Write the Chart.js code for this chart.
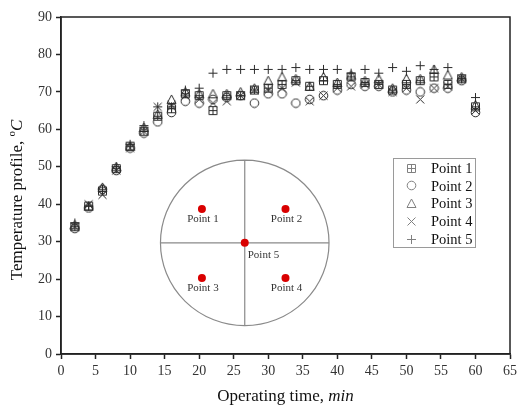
<!DOCTYPE html>
<html>
<head>
<meta charset="utf-8">
<script src="https://cdn.jsdelivr.net/npm/chart.js@4.4.0/dist/chart.umd.min.js"></script>
<style>
  html, body { margin: 0; padding: 0; background: #fff; }
</style>
</head>
<body>
<canvas id="chart" width="521" height="410"></canvas>
<script>
// Data
const times = [2, 4, 6, 8, 10, 12, 14, 16, 18, 20, 22, 24, 26, 28, 30, 32, 34, 36, 38, 40, 42, 44, 46, 48, 50, 52, 54, 56, 58, 60];
const point1 = [34, 39.5, 43.5, 49.5, 55.5, 59.5, 63.5, 65.5, 69.5, 69, 65, 69, 69, 70.5, 71, 72, 73, 71.5, 73, 72, 74, 72.5, 72, 70.5, 72, 73, 74, 72, 73.5, 66];
const point2 = [33.5, 39, 44, 49, 55, 59, 62, 64.5, 67.5, 67, 68, 68.5, 69, 67, 69.5, 69.5, 67, 68, 69, 70.5, 72, 71.5, 71.5, 70, 70.5, 70, 71, 71, 73, 64.5];
const point3 = [34.5, 39.5, 44.5, 50, 55.5, 60.5, 64, 68, 70, 69.5, 69.5, 69.5, 70, 71, 73, 74, 73.5, 71.5, 74, 72.5, 74.5, 73, 73.5, 71, 73.5, 73.5, 76, 74.5, 74, 66.5];
const point4 = [34, 40, 42.5, 49, 55, 59.5, 66, 66.5, 69, 68, 67, 67.5, 69, 70.5, 70.5, 71, 72.5, 67.5, 69, 71, 71.5, 72, 72, 70, 71, 68, 71, 71.5, 73.5, 65];
const point5 = [35, 39.5, 44, 50, 56, 61, 66, 66, 70.5, 71, 75, 76, 76, 76, 76, 76, 76.5, 76, 76, 76, 75, 76, 75, 76.5, 75.5, 77, 76, 76.5, 73.5, 68.5];
const seriesLabels = ['Point 1', 'Point 2', 'Point 3', 'Point 4', 'Point 5'];
const markerKinds = ['boxplus', 'circle', 'triangle', 'x', 'plus'];

// Inset: sensor positions in the cross-section (drawn in axis units)
const sensorX = [20.4, 32.5, 20.4, 32.5, 26.6];
const sensorY = [38.7, 38.7, 20.3, 20.3, 29.7];
const sensorLabels = ['Point 1', 'Point 2', 'Point 3', 'Point 4', 'Point 5'];
const insetCenter = [26.6, 29.7];
const insetRadius = [12.2, 22.1];

const SERIF = '"Liberation Serif", "DejaVu Serif", serif';

function makeMarker(kind, color) {
    const s = 11, c = document.createElement('canvas');
    c.width = s; c.height = s;
    const g = c.getContext('2d');
    g.strokeStyle = color;
    g.lineWidth = 1;
    g.beginPath();
    if (kind === 'boxplus') {
        g.rect(1.5, 1.5, 8, 8);
        g.moveTo(5.5, 1.5); g.lineTo(5.5, 9.5);
        g.moveTo(1.5, 5.5); g.lineTo(9.5, 5.5);
    } else if (kind === 'circle') {
        g.arc(5.5, 5.5, 4.3, 0, Math.PI * 2);
    } else if (kind === 'triangle') {
        g.moveTo(5.5, 1); g.lineTo(10, 9.5); g.lineTo(1, 9.5); g.closePath();
    } else if (kind === 'x') {
        g.moveTo(1.5, 1.5); g.lineTo(9.5, 9.5);
        g.moveTo(9.5, 1.5); g.lineTo(1.5, 9.5);
    } else {
        g.moveTo(5.5, 1); g.lineTo(5.5, 10);
        g.moveTo(1, 5.5); g.lineTo(10, 5.5);
    }
    g.stroke();
    return c;
}

const dataMarkers = markerKinds.map(k => makeMarker(k, '#2a2a2a'));
const legendMarkers = markerKinds.map(k => makeMarker(k, '#808080'));

const seriesValues = [point1, point2, point3, point4, point5];
const datasets = seriesValues.map((vals, i) => ({
    label: seriesLabels[i],
    data: times.map((t, j) => ({ x: t, y: vals[j] })),
    pointStyle: dataMarkers[i],
    showLine: false
}));
datasets.push({
    label: 'sensors',
    data: sensorX.map((x, i) => ({ x: x, y: sensorY[i] })),
    pointStyle: 'circle',
    pointRadius: 4,
    backgroundColor: '#d90000',
    borderColor: '#d90000',
    borderWidth: 0,
    showLine: false
});

// frame, inset diagram, legend and axis titles
const decorations = {
    id: 'decorations',
    beforeDatasetsDraw(chart) {
        const { ctx, chartArea: a, scales: { x, y } } = chart;
        ctx.save();
        // inset circle with cross
        const cx = x.getPixelForValue(insetCenter[0]);
        const cy = y.getPixelForValue(insetCenter[1]);
        const rx = x.getPixelForValue(insetCenter[0] + insetRadius[0]) - cx;
        const ry = cy - y.getPixelForValue(insetCenter[1] + insetRadius[1]);
        ctx.strokeStyle = '#8a8a8a';
        ctx.lineWidth = 1.2;
        ctx.beginPath();
        ctx.ellipse(cx, cy, rx, ry, 0, 0, Math.PI * 2);
        ctx.moveTo(cx - rx, cy); ctx.lineTo(cx + rx, cy);
        ctx.moveTo(cx, cy - ry); ctx.lineTo(cx, cy + ry);
        ctx.stroke();
        // plot frame
        ctx.strokeStyle = '#222';
        ctx.lineWidth = 1.5;
        ctx.strokeRect(a.left, a.top, a.right - a.left, a.bottom - a.top);
        ctx.restore();
    },
    afterDatasetsDraw(chart) {
        const { ctx, scales: { x, y } } = chart;
        ctx.save();
        // sensor labels
        ctx.fillStyle = '#333';
        ctx.font = '11px ' + SERIF;
        ctx.textBaseline = 'middle';
        sensorLabels.forEach((lab, i) => {
            const px = x.getPixelForValue(sensorX[i]);
            const py = y.getPixelForValue(sensorY[i]);
            if (i < 4) {
                ctx.textAlign = 'center';
                ctx.fillText(lab, px + 1, py + 10);
            } else {
                ctx.textAlign = 'left';
                ctx.fillText(lab, px + 3, py + 12);
            }
        });
        // legend box
        ctx.strokeStyle = '#9a9a9a';
        ctx.lineWidth = 1;
        ctx.strokeRect(393.5, 158.5, 82, 89);
        ctx.font = '14.5px ' + SERIF;
        ctx.fillStyle = '#111';
        ctx.textAlign = 'left';
        seriesLabels.forEach((lab, i) => {
            const ly = 168 + i * 17.75;
            const m = legendMarkers[i];
            ctx.drawImage(m, Math.round(411 - m.width / 2), Math.round(ly - m.height / 2));
            ctx.fillText(lab, 431, ly + 1);
        });
        ctx.restore();
    },
    afterDraw(chart) {
        const { ctx, chartArea: a } = chart;
        ctx.save();
        ctx.fillStyle = '#111';
        ctx.textBaseline = 'middle';
        ctx.textAlign = 'left';
        const normal = '17px ' + SERIF, italic = 'italic 17px ' + SERIF, sup = '11px ' + SERIF;
        // x title
        const xa = 'Operating time, ', xb = 'min';
        ctx.font = normal; const wa = ctx.measureText(xa).width;
        ctx.font = italic; const wb = ctx.measureText(xb).width;
        let sx = (a.left + a.right) / 2 - (wa + wb) / 2;
        ctx.font = normal; ctx.fillText(xa, sx, 397);
        ctx.font = italic; ctx.fillText(xb, sx + wa, 397);
        // y title
        const ya = 'Temperature profile, ', ys = 'o', yc = 'C';
        ctx.font = normal; const w1 = ctx.measureText(ya).width;
        ctx.font = sup; const w2 = ctx.measureText(ys).width;
        ctx.font = italic; const w3 = ctx.measureText(yc).width;
        ctx.translate(18, 200);
        ctx.rotate(-Math.PI / 2);
        let s = -(w1 + w2 + w3) / 2;
        ctx.font = normal; ctx.fillText(ya, s, 0);
        ctx.font = sup; ctx.fillText(ys, s + w1, -6);
        ctx.font = italic; ctx.fillText(yc, s + w1 + w2, 0);
        ctx.restore();
    }
};

const tickFont = { family: SERIF, size: 14 };

new Chart(document.getElementById('chart'), {
    type: 'scatter',
    data: { datasets: datasets },
    options: {
        responsive: false,
        animation: false,
        layout: { padding: { top: 17, right: 8, left: 0, bottom: 0 } },
        plugins: { legend: { display: false }, tooltip: { enabled: false } },
        scales: {
            x: {
                type: 'linear', min: 0, max: 65,
                ticks: { stepSize: 5, font: tickFont, color: '#333', padding: 4, maxRotation: 0 },
                grid: { drawOnChartArea: false, drawTicks: true, tickLength: 5, tickColor: '#222', tickWidth: 1.5 },
                border: { color: '#222', width: 1.5 },
                afterFit(s) { s.height = 56; }
            },
            y: {
                type: 'linear', min: 0, max: 90,
                ticks: { stepSize: 10, font: tickFont, color: '#333', padding: 4 },
                grid: { drawOnChartArea: false, drawTicks: true, tickLength: 5, tickColor: '#222', tickWidth: 1.5 },
                border: { color: '#222', width: 1.5 },
                afterFit(s) { s.width = 61; }
            }
        }
    },
    plugins: [decorations]
});
</script>
</body>
</html>
